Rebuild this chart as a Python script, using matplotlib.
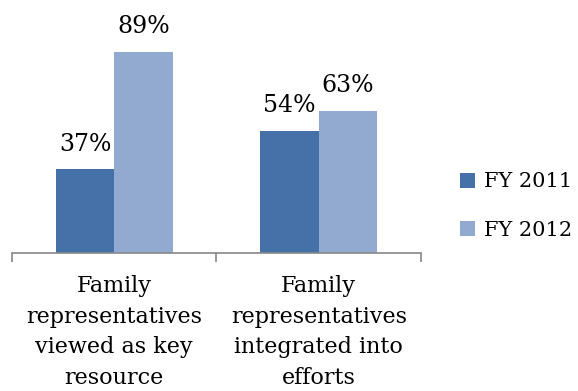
import numpy as np
import matplotlib.pyplot as plt

categories = ["Family\nrepresentatives\nviewed as key\nresource",
              "Family\nrepresentatives\nintegrated into\nefforts"]
fy2011 = [37, 54]
fy2012 = [89, 63]
series = ["FY 2011", "FY 2012"]
colors = ["#4571A8", "#93AAD0"]

plt.rcParams['font.family'] = ['DejaVu Serif']

fig = plt.figure(figsize=(5.78, 3.91), dpi=100)
ax = fig.add_axes([12 / 578, 1 - 253 / 391, 409 / 578, 226 / 391])

x = np.arange(len(categories))
w = 0.286
b1 = ax.bar(x - w / 2, fy2011, w, color=colors[0], label=series[0])
b2 = ax.bar(x + w / 2, fy2012, w, color=colors[1], label=series[1])

for bars, vals in [(b1, fy2011), (b2, fy2012)]:
    for bar, v in zip(bars, vals):
        ax.text(bar.get_x() + bar.get_width() / 2, v + 6, f"{v}%",
                ha='center', va='bottom', fontsize=17)

ax.set_xlim(-0.5, 1.5)
ax.set_ylim(0, 100)
ax.set_yticks([])
for s in ['top', 'right', 'left']:
    ax.spines[s].set_visible(False)
ax.spines['bottom'].set_color('#888888')
ax.spines['bottom'].set_linewidth(1.2)

ax.set_xticks(x)
ax.set_xticklabels(categories, fontsize=16, linespacing=1.5)
ax.tick_params(axis='x', which='major', length=0, pad=16)
ax.set_xticks([-0.5, 0.5, 1.5], minor=True)
ax.tick_params(axis='x', which='minor', length=6.5, color='#888888', width=1.2)

fig.legend(handles=[b1, b2], labels=series, loc='center left',
           bbox_to_anchor=(441 / 578, 1 - 206 / 391), frameon=False,
           fontsize=15, handlelength=0.75, handleheight=0.75,
           handletextpad=0.4, labelspacing=1.4)

fig.savefig("out.png", dpi=100)
